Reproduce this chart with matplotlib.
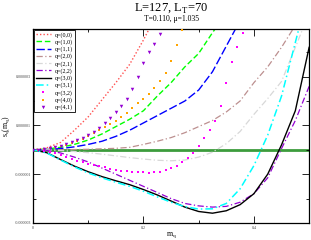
import numpy as np
import matplotlib
matplotlib.use('Agg')
import matplotlib.pyplot as plt
from matplotlib.ticker import MultipleLocator, FixedLocator, FuncFormatter

# values of s_q(m_q) in units of 1e-6
m_line = [0, 0.025, 0.05, 0.075, 0.1, 0.125, 0.15, 0.175, 0.2, 0.225, 0.25,
          0.275, 0.3, 0.325, 0.35, 0.375, 0.4, 0.425, 0.45, 0.475, 0.5]
s_00 = [0, 0.08, 0.3, 0.8, 1.35, 2.05, 2.75, 3.5, 4.5, 5.6]
s_10 = [0, 0.03, 0.1, 0.22, 0.4, 0.65, 0.95, 1.25, 1.6, 2.2, 2.75, 3.4, 3.95, 4.8, 5.6]
s_11 = [0, 0.01, 0.05, 0.12, 0.22, 0.35, 0.55, 0.8, 1.1, 1.4, 1.7, 2.0, 2.45, 3.2, 4.25, 5.3]
s_20 = [0, 0.0, 0.0, 0.01, 0.02, 0.04, 0.06, 0.1, 0.22, 0.35, 0.5, 0.7, 0.95, 1.2, 1.55,
        2.0, 2.75, 3.4, 4.2, 5.1, 6.0]
s_21 = [0, -0.01, -0.03, -0.07, -0.12, -0.18, -0.25, -0.32, -0.38, -0.43, -0.45, -0.42,
        -0.3, -0.1, 0.25, 0.75, 1.45, 2.1, 2.8, 4.2, 5.6]
s_22 = [0, -0.03, -0.13, -0.3, -0.5, -0.75, -1.0, -1.25, -1.5, -1.75, -2.0, -2.2, -2.3,
        -2.35, -2.32, -2.15, -1.8, -1.15, 0.05, 1.2, 2.6]
s_30 = [0, -0.12, -0.4, -0.67, -0.9, -1.1, -1.27, -1.43, -1.63, -1.85, -2.1, -2.35, -2.53,
        -2.6, -2.5, -2.25, -1.8, -1.0, 0.2, 1.6, 4.2]
s_31 = [0, -0.13, -0.42, -0.7, -0.95, -1.15, -1.33, -1.5, -1.7, -1.93, -2.15, -2.33, -2.43,
        -2.42, -2.2, -1.6, -0.65, 0.6, 2.2, 4.4, 6.6]

m_pts = [round(0.01 * i, 2) for i in range(40)]
s_32 = [0, -0.01, -0.04, -0.08, -0.14, -0.22, -0.31, -0.39, -0.46, -0.52, -0.57, -0.62,
        -0.67, -0.72, -0.77, -0.81, -0.85, -0.88, -0.9, -0.92, -0.93, -0.94, -0.93, -0.9,
        -0.84, -0.76, -0.65, -0.52, -0.35, -0.12, 0.15, 0.47, 0.8, 1.2, 1.8, 2.75, 3.6,
        4.2, 4.8, 5.4]
s_40 = [0, 0.01, 0.03, 0.06, 0.1, 0.15, 0.2, 0.27, 0.35, 0.45, 0.55, 0.67, 0.8, 0.92,
        1.05, 1.2, 1.35, 1.52, 1.7, 1.9, 2.1, 2.3, 2.55, 2.8, 3.15, 3.65, 4.3, 4.9, 5.5]
s_41 = [0, 0.01, 0.03, 0.06, 0.1, 0.16, 0.23, 0.3, 0.39, 0.48, 0.6, 0.74, 0.89, 1.08,
        1.3, 1.53, 1.8, 2.1, 2.5, 3.0, 3.55, 4.0, 4.35, 4.75, 5.2]

unit = 1e-6

plt.rcParams['font.family'] = ['Liberation Serif', 'DejaVu Serif']

fig = plt.figure(figsize=(3.11, 2.40), dpi=100)
ax = fig.add_axes([0.106, 0.071, 0.888, 0.808])

ax.axhline(0, color='#3c9c3c', lw=2.0, zorder=1)

def line(s, label, **kw):
    n = len(s)
    ax.plot(m_line[:n], np.array(s) * unit, label=label, zorder=2, **kw)

def pts(s, label, **kw):
    n = len(s)
    ax.plot(m_pts[:n], np.array(s) * unit, label=label, linestyle='none', zorder=3, **kw)

line(s_00, 'q=(0,0)', color='#ff5050', lw=1.0, linestyle=(0, (1, 1.5)))
line(s_10, 'q=(1,0)', color='#00ff00', lw=1.0, linestyle=(0, (4, 2)))
line(s_11, 'q=(1,1)', color='#0000ff', lw=1.0, linestyle=(0, (6, 2)))
line(s_20, 'q=(2,0)', color='#bc8f8f', lw=0.9, linestyle=(0, (5, 2, 1, 2)))
line(s_21, 'q=(2,1)', color='#d8d8d8', lw=0.9, linestyle=(0, (5, 2, 1, 2)))
line(s_22, 'q=(2,2)', color='#9400d3', lw=0.9, linestyle=(0, (5, 2, 1, 2)))
line(s_30, 'q=(3,0)', color='black', lw=1.0)
line(s_31, 'q=(3,1)', color='#00ffff', lw=1.1, linestyle=(0, (5, 2, 1, 2)))
pts(s_32, 'q=(3,2)', color='#ff00ff', marker='s', markersize=2.0, markeredgewidth=0)
pts(s_40, 'q=(4,0)', color='#ffa500', marker='s', markersize=2.0, markeredgewidth=0)
pts(s_41, 'q=(4,1)', color='#9400d3', marker='v', markersize=2.5, markeredgewidth=0)

ax.set_xlim(0, 0.5)
ax.set_ylim(-3 * unit, 4.95 * unit)

ax.xaxis.set_major_locator(MultipleLocator(0.2))
ax.xaxis.set_minor_locator(MultipleLocator(0.1))
ax.yaxis.set_major_locator(FixedLocator([v * unit for v in (-3, -1, 1, 3)]))
ax.yaxis.set_minor_locator(FixedLocator([v * unit for v in (-2, 0, 2, 4)]))
ax.xaxis.set_major_formatter(FuncFormatter(lambda v, p: '%g' % round(v, 2)))
ax.yaxis.set_major_formatter(FuncFormatter(lambda v, p: '%.6f' % v))
ax.tick_params(which='both', direction='in', top=True, right=True,
               labelsize=3, labelcolor='#444444', width=0.6)
ax.tick_params(which='major', length=5)
ax.tick_params(which='minor', length=2.5)
ax.tick_params(axis='x', pad=2)
ax.tick_params(axis='y', pad=1.5)
for sp in ax.spines.values():
    sp.set_linewidth(0.9)

ax.set_xlabel('m$_\\mathregular{q}$', fontsize=5.5, labelpad=1)
ax.set_ylabel('s$_\\mathregular{q}$(m$_\\mathregular{q}$)', fontsize=5.5, labelpad=1)

fig.text(0.55, 0.965, 'L=127, L$_\\mathregular{T}$=70', ha='center', va='center', fontsize=9)
fig.text(0.55, 0.922, 'T=0.110, \u03bc=1.035', ha='center', va='center', fontsize=5.5)

leg = ax.legend(loc='upper left', fontsize=4.3, frameon=True, fancybox=False,
                edgecolor='black', framealpha=1, borderaxespad=0.15, handlelength=2.6,
                labelspacing=0.25, borderpad=0.3, handletextpad=0.6)
leg.get_frame().set_linewidth(0.6)

fig.savefig('out.png', dpi=100)
